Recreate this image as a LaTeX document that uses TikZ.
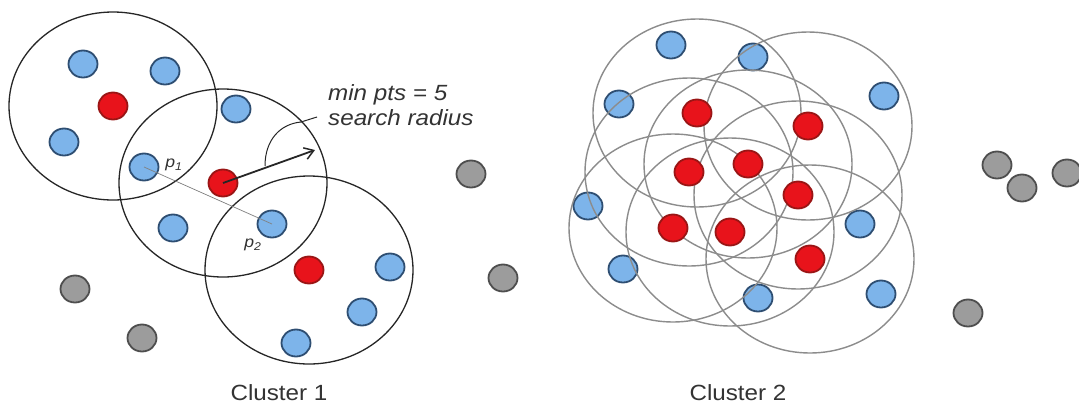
\documentclass[tikz,border=0pt]{standalone}
\usepackage{fontspec}
\setmainfont{Liberation Sans}[FakeStretch=1.1]
\usetikzlibrary{shapes.geometric,arrows.meta,backgrounds}
\definecolor{bluefill}{HTML}{7DB4EA}
\definecolor{blueedge}{HTML}{2E4E72}
\definecolor{redfill}{HTML}{E8131B}
\definecolor{rededge}{HTML}{9A1515}
\definecolor{grayfill}{HTML}{9C9C9C}
\definecolor{grayedge}{HTML}{4E4E4E}
\definecolor{ringgray}{HTML}{8C8C8C}
\begin{document}
\begin{tikzpicture}[x=1pt,y=-1pt,
  dot/.style={ellipse,minimum width=29pt,minimum height=27pt,inner sep=0pt,line width=1.8pt},
  bluedot/.style={dot,draw=blueedge,fill=bluefill},
  reddot/.style={dot,draw=rededge,fill=redfill},
  graydot/.style={dot,draw=grayedge,fill=grayfill},
  blackring/.style={draw=black!85,line width=1.3pt},
  grayring/.style={draw=ringgray,line width=1.4pt},
  lbl/.style={font=\fontsize{22}{26}\selectfont,inner sep=0pt,text=black!80},
  plbl/.style={font=\fontsize{16}{18}\selectfont\itshape,inner sep=0pt,text=black!80}]
\useasboundingbox (0,0) rectangle (1079,408);
\begin{scope}[on background layer]
  \fill[white] (0,0) rectangle (1079,408);
\end{scope}

% ---------- Cluster 1 ----------
\node[reddot] (r1) at (113,106) {};
\node[reddot] (r2) at (223,183) {};
\node[reddot] (r3) at (309,270) {};
\node[bluedot] (b1) at (83,64) {};
\node[bluedot] (b2) at (165,71) {};
\node[bluedot] (b3) at (64,142) {};
\node[bluedot] (p1) at (144,167) {};
\node[bluedot] (b5) at (236,109) {};
\node[bluedot] (b6) at (173,228) {};
\node[bluedot] (p2) at (272,224) {};
\node[bluedot] (b8) at (390,267) {};
\node[bluedot] (b9) at (362,312) {};
\node[bluedot] (b10) at (296,343) {};
\node[graydot] (g1) at (75,289) {};
\node[graydot] (g2) at (142,338) {};
\node[graydot] (g3) at (471,174) {};

\begin{scope}[on background layer]
  \draw[blackring] (r1) ellipse[x radius=104pt,y radius=94pt];
  \draw[blackring] (r2) ellipse[x radius=104pt,y radius=94pt];
  \draw[blackring] (r3) ellipse[x radius=104pt,y radius=94pt];
\end{scope}

\draw[gray,line width=0.7pt] (p1.center) -- (p2.center);
\node[plbl] (lp1) at (174,165) {p\textsubscript{1}};
\node[plbl] (lp2) at (253,245) {p\textsubscript{2}};

\coordinate (tip) at (315,150);
\draw[black!85,line width=1.8pt,-{Straight Barb[length=9pt,width=12pt,line width=1.5pt]}] (r2.center) -- (tip);
\coordinate (arcA) at (265,166);
\coordinate (arcB) at (301,122);
\coordinate (lead) at (317,117);
\draw[black!85,line width=1pt] (arcA) .. controls (265,140) and (280,124) .. (arcB) -- (lead);

\node[lbl,font=\fontsize{22}{26}\selectfont\itshape,anchor=base west] (t1) at (328,100) {min pts = 5};
\node[lbl,font=\fontsize{22}{26}\selectfont\itshape,anchor=base west] (t2) at (328,125) {search radius};

\node[lbl,anchor=base] (c1) at (279,400) {Cluster 1};

% ---------- Cluster 2 ----------
\node[reddot] (s1) at (697,113) {};
\node[reddot] (s2) at (808,126) {};
\node[reddot] (s3) at (689,172) {};
\node[reddot] (s4) at (748,164) {};
\node[reddot] (s5) at (798,195) {};
\node[reddot] (s6) at (673,228) {};
\node[reddot] (s7) at (730,232) {};
\node[reddot] (s8) at (810,259) {};

\begin{scope}[on background layer]
  \node[bluedot] (u1) at (671,45) {};
  \node[bluedot] (u2) at (753,57) {};
  \node[bluedot] (u3) at (619,104) {};
  \node[bluedot] (u4) at (884,96) {};
  \node[bluedot] (u5) at (588,206) {};
  \node[bluedot] (u6) at (860,224) {};
  \node[bluedot] (u7) at (623,269) {};
  \node[bluedot] (u8) at (758,298) {};
  \node[bluedot] (u9) at (881,294) {};
  \foreach \s in {s1,s2,s3,s4,s5,s6,s7,s8}
    \draw[grayring] (\s) ellipse[x radius=104pt,y radius=94pt];
\end{scope}

\node[graydot] (h1) at (503,278) {};
\node[graydot] (h2) at (997,165) {};
\node[graydot] (h3) at (1022,188) {};
\node[graydot] (h4) at (1067,173) {};
\node[graydot] (h5) at (968,313) {};

\node[lbl,anchor=base] (c2) at (738,400) {Cluster 2};
\end{tikzpicture}
\end{document}
